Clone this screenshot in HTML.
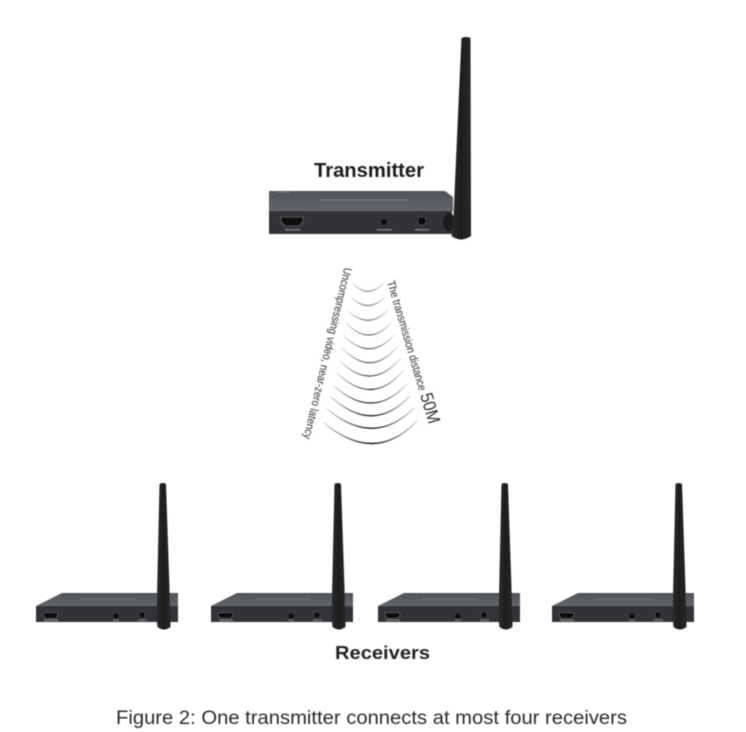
<!DOCTYPE html>
<html>
<head>
<meta charset="utf-8">
<style>
html,body{margin:0;padding:0;background:#fff;width:746px;height:732px;overflow:hidden}
svg{display:block}
text{font-family:"Liberation Sans",sans-serif}
</style>
</head>
<body>
<svg width="746" height="732" viewBox="0 0 746 732" xmlns="http://www.w3.org/2000/svg">
<defs>
<linearGradient id="top" x1="0" y1="0" x2="0" y2="1"><stop offset="0" stop-color="#505358"/><stop offset="1" stop-color="#63666c"/></linearGradient>
<linearGradient id="ant" x1="0" y1="0" x2="1" y2="0"><stop offset="0" stop-color="#2c2c2c"/><stop offset=".5" stop-color="#1e1e1e"/><stop offset="1" stop-color="#282828"/></linearGradient>
<linearGradient id="arcg" x1="0" y1="0" x2="1" y2="0"><stop offset="0" stop-color="#d8d8d8"/><stop offset=".5" stop-color="#111"/><stop offset="1" stop-color="#d8d8d8"/></linearGradient>
<filter id="b" x="-5%" y="-5%" width="110%" height="110%"><feGaussianBlur stdDeviation="0.45"/></filter>
<g id="rx">
<path d="M62 593H178V606H36Z" fill="url(#top)"/>
<rect x="36" y="606" width="142" height="16" fill="#303237"/>
<path d="M43 612.500H58V616L55.500 618.500H45.500L43 616Z" fill="#0c0c0c" stroke="#777" stroke-width=".5"/>
<rect x="44" y="619.500" width="14" height="1.600" fill="#6c6e72"/>
<circle cx="116" cy="616" r="2.600" fill="#0d0d0d"/>
<rect x="113" y="619.500" width="6" height="1.400" fill="#6c6e72"/>
<circle cx="142" cy="615" r="3.400" fill="#0d0d0d" stroke="#555" stroke-width=".6"/>
<rect x="138" y="619.500" width="9" height="1.400" fill="#6c6e72"/>
<rect x="80" y="598.500" width="55" height="1.100" fill="#6f7277"/>
<path d="M159.500 484Q162.500 482 166 484L170.500 618V627Q164 632 157.500 627L156.500 618Z" fill="url(#ant)"/>
</g>
</defs>
<g filter="url(#b)">
<!-- Transmitter -->
<path d="M269 191H445L453 197V211H269Z" fill="url(#top)"/>
<rect x="269" y="211" width="183" height="23" fill="#303237"/>
<rect x="320" y="199.500" width="88" height="1.100" fill="#7c7f84"/>
<rect x="277" y="192" width="13" height="1" fill="#74767a"/>
<path d="M281 217H303V222L299 226H285L281 222Z" fill="#0c0c0c" stroke="#777" stroke-width=".6"/>
<rect x="285" y="229" width="15" height="1.600" fill="#6f7175"/>
<circle cx="384" cy="222" r="3.500" fill="#0d0d0d" stroke="#444" stroke-width=".6"/>
<rect x="377" y="229" width="15" height="1.600" fill="#6f7175"/>
<circle cx="422" cy="221" r="4.500" fill="#0d0d0d" stroke="#555" stroke-width=".7"/>
<rect x="415" y="229" width="14" height="1.600" fill="#6f7175"/>
<ellipse cx="449" cy="222" rx="6" ry="9" fill="#1e1e1e"/>
<path d="M461.500 38Q466 36 470.500 38L471 224V236Q461 243 451.500 236L453.500 215Z" fill="url(#ant)"/>
<!-- Receivers -->
<use href="#rx"/>
<use href="#rx" x="175"/>
<use href="#rx" x="342"/>
<use href="#rx" x="516"/>
<!-- Arcs -->
<g fill="none" stroke-linecap="round" stroke="url(#arcg)">
<path d="M353 284Q368 299 384 283" stroke-width="1" stroke-opacity=".6"/>
<path d="M351 297Q368 314 385 297" stroke-width="1" stroke-opacity=".65"/>
<path d="M348 311Q369 330 388 310" stroke-width="1" stroke-opacity=".7"/>
<path d="M346 323Q369 347 391 323" stroke-width="1" stroke-opacity=".74"/>
<path d="M344 336Q370 362 394 335" stroke-width="1.100" stroke-opacity=".78"/>
<path d="M342 348Q371 378 397 347" stroke-width="1.100" stroke-opacity=".82"/>
<path d="M340 361Q371 392 400 359" stroke-width="1.100" stroke-opacity=".86"/>
<path d="M337 373Q372 407 403 371" stroke-width="1.200" stroke-opacity=".9"/>
<path d="M334 386Q373 421 407 384" stroke-width="1.200" stroke-opacity=".93"/>
<path d="M331 397Q373 435 410 396" stroke-width="1.300" stroke-opacity=".96"/>
<path d="M327 409Q374 448 414 408" stroke-width="1.300"/>
<path d="M324 423Q375 465 417 421" stroke-width="1.400"/>
</g>
<!-- Rotated labels -->
<text transform="translate(344.500,267) rotate(103.500)" font-size="11.500" fill="#333" textLength="176" lengthAdjust="spacingAndGlyphs">Uncompressing video, near-zero latency</text>
<text transform="translate(387,282) rotate(73.600)" font-size="11.500" fill="#333" textLength="114" lengthAdjust="spacingAndGlyphs">The transmission distance</text>
<text transform="translate(420,395) rotate(73.600)" font-size="18" fill="#333" textLength="31" lengthAdjust="spacingAndGlyphs">50M</text>
<!-- Labels -->
<text x="314" y="177" font-size="20" font-weight="bold" fill="#1d1d1d" textLength="110" lengthAdjust="spacingAndGlyphs">Transmitter</text>
<text x="335" y="659" font-size="18.500" font-weight="bold" fill="#222" textLength="95" lengthAdjust="spacingAndGlyphs">Receivers</text>
<text x="116" y="724" font-size="19" fill="#2c2c2c" textLength="511" lengthAdjust="spacingAndGlyphs">Figure 2: One transmitter connects at most four receivers</text>
</g>
</svg>
</body>
</html>
